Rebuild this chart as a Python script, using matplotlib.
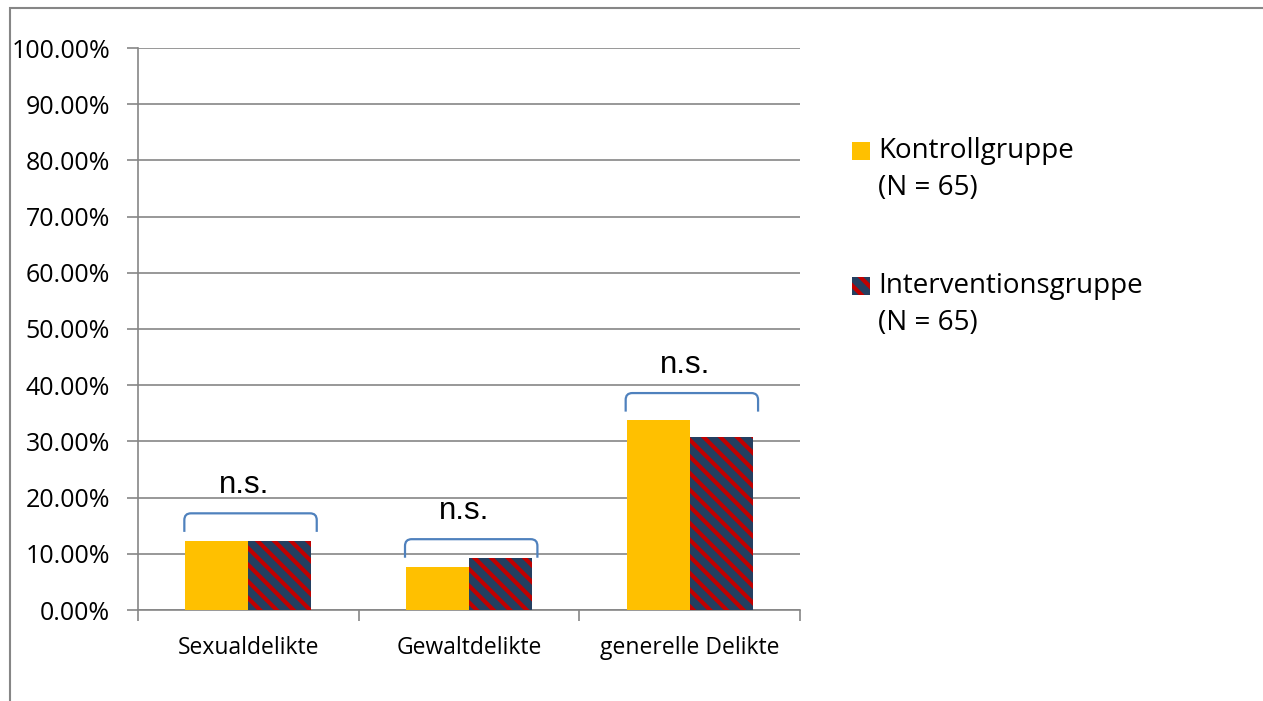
import numpy as np
import matplotlib
matplotlib.use("Agg")
import matplotlib.pyplot as plt
from matplotlib.patches import Rectangle, PathPatch
from matplotlib.path import Path
from matplotlib.ticker import FuncFormatter

# data (share of participants with reoffence, N = 65 per group)
categories = ["Sexualdelikte", "Gewaltdelikte", "generelle Delikte"]
kontroll = [0.123, 0.077, 0.338]
intervention = [0.123, 0.092, 0.308]
sig_labels = ["n.s.", "n.s.", "n.s."]
bracket_top = [0.172, 0.126, 0.386]
legend_labels = ["Kontrollgruppe", "Interventionsgruppe"]
legend_n = ["(N = 65)", "(N = 65)"]

GOLD = "#FFC000"
NAVY = "#243F60"
RED = "#C00000"
GRID = "#868686"
BRACKET = "#4F81BD"

plt.rcParams["font.family"] = ["Open Sans", "DejaVu Sans"]
plt.rcParams["hatch.linewidth"] = 3.0

fig = plt.figure(figsize=(12.63, 7.01), dpi=100)
W, H = 1263, 701
ax = fig.add_axes([138 / W, 1 - 610 / H, (800 - 138) / W, (610 - 48) / H])

x = np.arange(len(categories))
bw = 0.285
ax.bar(x - bw / 2, kontroll, bw, color=GOLD, linewidth=0, zorder=3)
ax.bar(x + bw / 2, intervention, bw, color=NAVY, edgecolor=RED, hatch="\\\\",
       linewidth=0, zorder=3)

# significance brackets with rounded corners
for i, (top, lab) in enumerate(zip(bracket_top, sig_labels)):
    x0, x1 = i - 0.29, i + 0.31
    leg, rx, ry = 0.033, 0.03, 0.012
    verts = [(x0, top - leg), (x0, top - ry), (x0, top), (x0 + rx, top),
             (x1 - rx, top), (x1, top), (x1, top - ry), (x1, top - leg)]
    codes = [Path.MOVETO, Path.LINETO, Path.CURVE3, Path.CURVE3,
             Path.LINETO, Path.CURVE3, Path.CURVE3, Path.LINETO]
    ax.add_patch(PathPatch(Path(verts, codes), fill=False, edgecolor=BRACKET,
                           lw=1.6, zorder=4))
    ax.text(i - 0.02, top + 0.05, lab, ha="center", va="center",
            fontsize=22.5, family="Liberation Sans")

ax.set_xlim(-0.5, 2.5)
ax.set_ylim(0, 1)
ax.set_yticks(np.arange(0, 1.01, 0.1))
ax.yaxis.set_major_formatter(FuncFormatter(lambda v, p: f"{v * 100:.2f}%"))
ax.set_xticks([-0.5, 0.5, 1.5, 2.5])
ax.set_xticklabels([])
ax.set_xticks(x, minor=True)
ax.set_xticklabels(categories, minor=True, fontsize=16.5)
ax.tick_params(axis="x", which="minor", length=0, pad=19)
ax.tick_params(axis="x", which="major", length=8, color=GRID, width=1.2)
ax.tick_params(axis="y", length=8, color=GRID, width=1.2, labelsize=18, pad=12)
ax.grid(axis="y", color=GRID, lw=1.2, zorder=0)
for s in ["top", "right"]:
    ax.spines[s].set_visible(False)
for s in ["left", "bottom"]:
    ax.spines[s].set_color(GRID)
    ax.spines[s].set_linewidth(1.2)

# legend drawn by hand so the marker sits next to the first text line
for j, (lab, n, face) in enumerate(zip(legend_labels, legend_n, [GOLD, NAVY])):
    y = 151 + j * 135
    kw = dict(facecolor=face, linewidth=0)
    if j == 1:
        kw.update(edgecolor=RED, hatch="\\\\")
    fig.add_artist(Rectangle((852 / W, 1 - (y + 9) / H), 18 / W, 18 / H,
                             transform=fig.transFigure, **kw))
    fig.text(878 / W, 1 - y / H, lab, fontsize=20, va="center")
    fig.text(878 / W, 1 - (y + 37) / H, n, fontsize=20, va="center")

# chart frame
fig.add_artist(Rectangle((10 / W, -0.01), 1.1, 1 - 8 / H + 0.01,
                         transform=fig.transFigure, fill=False,
                         edgecolor=GRID, lw=1.5))

fig.savefig("out.png", dpi=100)
